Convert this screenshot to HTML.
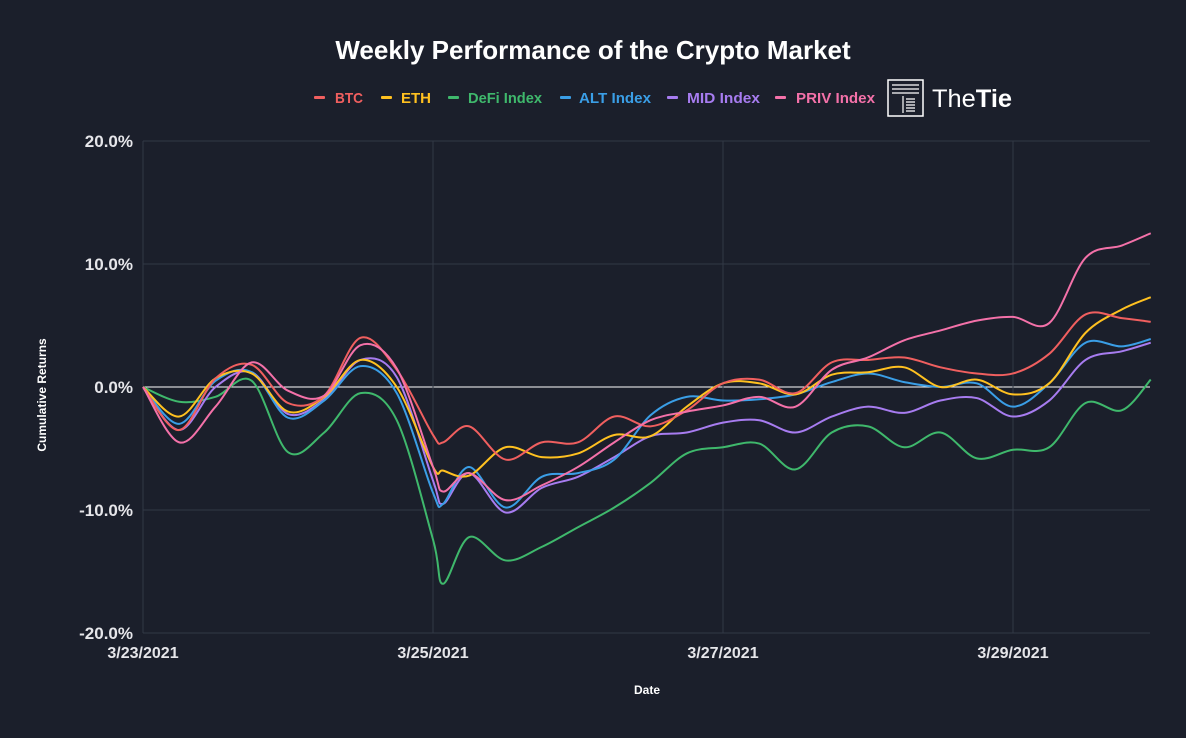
<!DOCTYPE html>
<html><head><meta charset="utf-8">
<style>
html,body{margin:0;padding:0;background:#1b1f2b;}
body{width:1186px;height:733px;overflow:hidden;font-family:"Liberation Sans",sans-serif;}
svg text{font-family:"Liberation Sans",sans-serif;}
</style></head>
<body>
<svg id="chart" width="1186" height="733" viewBox="0 0 1186 733" xmlns="http://www.w3.org/2000/svg">
<rect x="0" y="0" width="1186" height="733" fill="#1b1f2b"/>
<text x="593" y="59" text-anchor="middle" fill="#fff" font-size="26" font-weight="bold">Weekly Performance of the Crypto Market</text>
<g id="legend"></g>
<g>
<rect x="888" y="80" width="35" height="36" fill="none" stroke="#fff" stroke-width="1.5"/>
<path d="M892 85h27M892 89h27M892 93h27M903 96v17M906 99h9M906 102h9M906 105h9M906 108h9M906 111h9" stroke="#fff" stroke-width="1.2" fill="none"/>
<text x="932" y="107" fill="#fff" font-size="25" textLength="80" lengthAdjust="spacingAndGlyphs">The<tspan font-weight="bold">Tie</tspan></text>
</g>
<g id="grid"></g>
<g id="axes"></g>
<g id="series"></g>
<text x="647" y="694" text-anchor="middle" fill="#fff" font-size="12" font-weight="bold">Date</text>
<text transform="translate(46,395) rotate(-90)" text-anchor="middle" fill="#fff" font-size="12" font-weight="bold">Cumulative Returns</text>
</svg>
<script>
const times = [0,0.25,0.5,0.75,1,1.25,1.5,1.75,2,2.07,2.25,2.5,2.75,3,3.25,3.5,3.75,4,4.25,4.5,4.75,5,5.25,5.5,5.75,6,6.25,6.5,6.75,6.95];
const seriesNames = ["BTC","ETH","DeFi Index","ALT Index","MID Index","PRIV Index"];
const seriesColors = ["#f05f5f","#ffc120","#3fb86c","#3a9ee6","#a77cf0","#f471a9"];
const btc  = [0,-3.5,0.7,1.8,-1.3,-0.7,4.0,1.4,-3.9,-4.5,-3.2,-5.9,-4.5,-4.5,-2.4,-3.2,-1.9,0.3,0.6,-0.5,2.0,2.2,2.4,1.6,1.1,1.1,2.7,5.9,5.6,5.3];
const eth  = [0,-2.4,0.7,1.1,-2.0,-0.8,2.2,0,-6.5,-6.8,-7.2,-4.9,-5.7,-5.4,-3.9,-4.0,-1.6,0.3,0.3,-0.6,1.0,1.2,1.6,0,0.6,-0.6,0.3,4.4,6.3,7.3];
const defi = [0,-1.2,-0.8,0.5,-5.3,-3.7,-0.5,-2.7,-12.4,-16.0,-12.2,-14.1,-13.0,-11.4,-9.8,-7.8,-5.4,-4.9,-4.6,-6.7,-3.7,-3.2,-4.9,-3.7,-5.8,-5.1,-4.9,-1.3,-1.9,0.6];
const alt  = [0,-3.0,0.5,1.2,-2.5,-1.1,1.7,-0.5,-8.6,-9.5,-6.5,-9.8,-7.3,-7.0,-5.9,-2.3,-0.8,-1.1,-1.0,-0.6,0.4,1.1,0.4,0,0.3,-1.6,0.3,3.6,3.3,3.9];
const mid  = [0,-3.5,0,1.2,-2.2,-1.0,2.2,0.8,-7.6,-9.5,-7.0,-10.2,-8.2,-7.3,-5.7,-4.0,-3.7,-2.9,-2.7,-3.7,-2.4,-1.6,-2.1,-1.1,-0.9,-2.4,-1.1,2.2,2.9,3.6];
const priv = [0,-4.5,-1.6,2.0,-0.3,-0.7,3.4,1.5,-6.5,-8.5,-7.0,-9.2,-8.0,-6.5,-4.5,-2.7,-2.0,-1.5,-0.8,-1.6,1.4,2.4,3.8,4.6,5.4,5.7,5.2,10.5,11.5,12.5];
const seriesValues = [btc,eth,defi,alt,mid,priv];
const yTicks = [20,10,0,-10,-20];
const yTickLabels = ["20.0%","10.0%","0.0%","-10.0%","-20.0%"];
const xTicks = [0,2,4,6];
const xTickLabels = ["3/23/2021","3/25/2021","3/27/2021","3/29/2021"];

const NS="http://www.w3.org/2000/svg";
const X0=143, X1=1150, Y0=141, Y1=633, DAY=145;
function xScale(t){return X0+t*DAY;}
function yScale(v){return Y0+(20-v)*(Y1-Y0)/40;}
function mk(tag,attrs,parent){const e=document.createElementNS(NS,tag);for(const k in attrs)e.setAttribute(k,attrs[k]);parent.appendChild(e);return e;}

const grid=document.getElementById('grid'), axes=document.getElementById('axes'), sg=document.getElementById('series'), lg=document.getElementById('legend');
yTicks.forEach((v,i)=>{
  const y=yScale(v);
  const l=mk('line',{x1:X0,x2:X1,y1:y,y2:y,stroke:v===0?'#ffffff':'#323846','stroke-width':1},grid);
  
  
  const t=mk('text',{x:133,y:y+6,'text-anchor':'end',fill:'#e6e6ea','font-size':17,'font-weight':'bold'},axes);
  t.textContent=yTickLabels[i];
  
  
});
const left=mk('line',{x1:X0,x2:X0,y1:Y0,y2:Y1,stroke:'#323846'},grid);


xTicks.forEach((d,i)=>{
  const x=xScale(d);
  if(d>0){const l=mk('line',{x1:x,x2:x,y1:Y0,y2:Y1,stroke:'#323846'},grid);
  
  }
  const t=mk('text',{x:x,y:658,'text-anchor':'middle',fill:'#e6e6ea','font-size':16,'font-weight':'bold'},axes);
  t.textContent=xTickLabels[i];
  
  
});
function pathFor(vals){
  const p=vals.map((v,i)=>[xScale(times[i]),yScale(v)]);
  let d='M'+p[0][0]+' '+p[0][1];
  for(let i=0;i<p.length-1;i++){
    const p0=p[Math.max(0,i-1)],p1=p[i],p2=p[i+1],p3=p[Math.min(p.length-1,i+2)];
    const c1=[p1[0]+(p2[0]-p0[0])/6,p1[1]+(p2[1]-p0[1])/6];
    const c2=[p2[0]-(p3[0]-p1[0])/6,p2[1]-(p3[1]-p1[1])/6];
    d+=' C'+c1[0]+' '+c1[1]+' '+c2[0]+' '+c2[1]+' '+p2[0]+' '+p2[1];
  }
  return d;
}
const order=[2,4,3,1,0,5];
order.forEach(i=>{
  const pth=mk('path',{d:pathFor(seriesValues[i]),fill:'none',stroke:seriesColors[i],'stroke-width':2,'stroke-linejoin':'round'},sg);
  
  
});
const legMarkX=[314,381,448,560,667,775];
const legTextX=[335,401,468,579,687,796];
const legTextW=[28,30,74,72,73,79];
seriesNames.forEach((n,i)=>{
  const g=mk('g',{},lg);
  
  
  mk('rect',{x:legMarkX[i],y:96,width:11,height:3,rx:1,fill:seriesColors[i]},g);
  const t=mk('text',{x:legTextX[i],y:103,fill:seriesColors[i],'font-size':15,'font-weight':'bold',textLength:legTextW[i],lengthAdjust:'spacingAndGlyphs'},g);
  t.textContent=n;
});
</script>
</body></html>
